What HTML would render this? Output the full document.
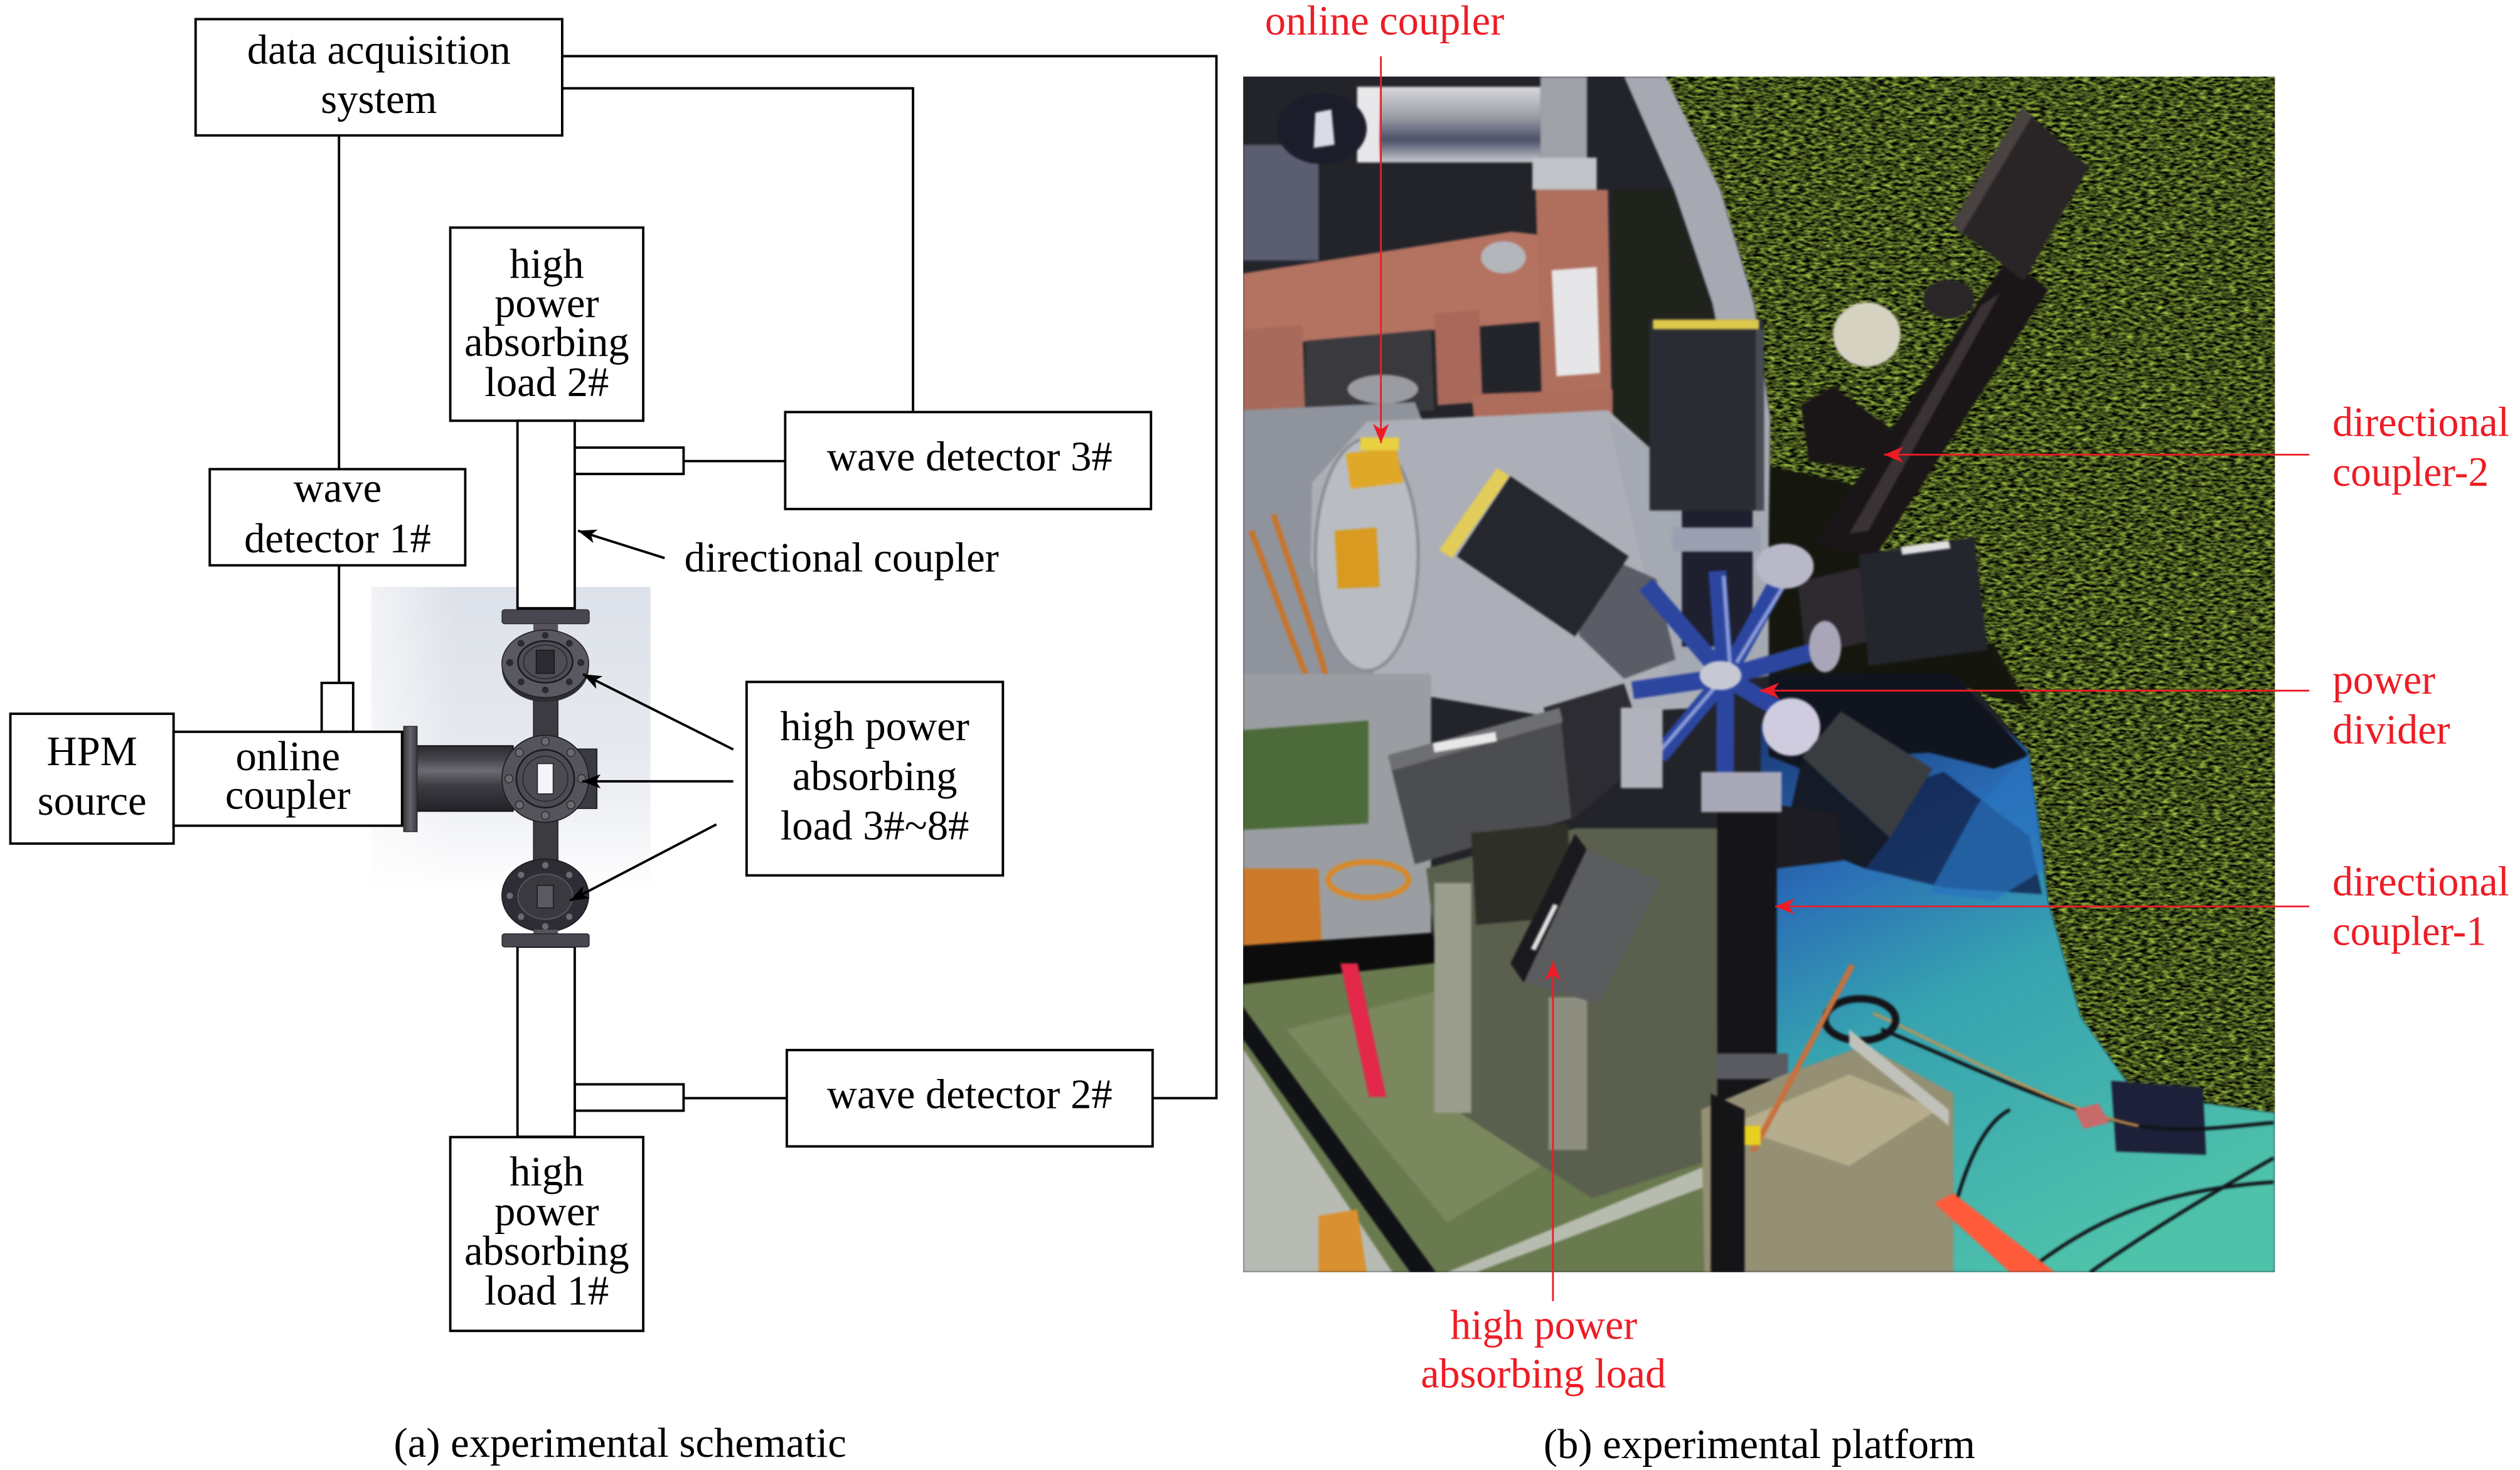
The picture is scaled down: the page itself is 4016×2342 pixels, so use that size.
<!DOCTYPE html>
<html><head><meta charset="utf-8"><style>
html,body{margin:0;padding:0;background:#fff;}
svg{display:block;}
text{font-family:"Liberation Serif","Times New Roman",serif;}
</style></head><body>
<svg xmlns="http://www.w3.org/2000/svg" width="4016" height="2342" viewBox="0 0 1567.2 914">
<defs>
 <marker id="ab" viewBox="-12 -6 13 12" markerWidth="13" markerHeight="12" refX="0" refY="0" orient="auto" markerUnits="userSpaceOnUse"><path d="M0,0 L-11.5,-4.4 L-8.5,0 L-11.5,4.4 Z" fill="#000"/></marker>
 <marker id="ar" viewBox="-13 -6 14 12" markerWidth="14" markerHeight="12" refX="0" refY="0" orient="auto" markerUnits="userSpaceOnUse"><path d="M0,0 L-12,-5 L-8.5,0 L-12,5 Z" fill="#ee1c25"/></marker>
 <linearGradient id="bg3d" x1="0" y1="0" x2="0" y2="1">
  <stop offset="0" stop-color="#dde1e9"/><stop offset="0.55" stop-color="#e6e9ef"/><stop offset="0.85" stop-color="#f6f7f9"/><stop offset="1" stop-color="#ffffff"/>
 </linearGradient>
 <linearGradient id="bg3dL" x1="0" y1="0" x2="1" y2="0">
  <stop offset="0" stop-color="#ffffff" stop-opacity="0.6"/><stop offset="0.3" stop-color="#ffffff" stop-opacity="0"/>
 </linearGradient>
 <linearGradient id="cyl" x1="0" y1="0" x2="0" y2="1">
  <stop offset="0" stop-color="#2c2b32"/><stop offset="0.2" stop-color="#45444b"/><stop offset="0.38" stop-color="#6c6b73"/><stop offset="0.6" stop-color="#3e3d44"/><stop offset="1" stop-color="#222127"/>
 </linearGradient>
 <linearGradient id="fl" x1="0" y1="0" x2="1" y2="0">
  <stop offset="0" stop-color="#3a3940"/><stop offset="0.5" stop-color="#65646c"/><stop offset="1" stop-color="#3a3940"/>
 </linearGradient>
 <linearGradient id="teal" x1="1150" y1="430" x2="1320" y2="780" gradientUnits="userSpaceOnUse">
  <stop offset="0" stop-color="#1b3b78"/><stop offset="0.25" stop-color="#2a6db6"/><stop offset="0.5" stop-color="#36a2b0"/><stop offset="1" stop-color="#4fc2aa"/>
 </linearGradient>
 <linearGradient id="silver" x1="0" y1="0" x2="0" y2="1">
  <stop offset="0" stop-color="#d8d9dd"/><stop offset="0.4" stop-color="#9a9ca4"/><stop offset="0.7" stop-color="#4a5068"/><stop offset="1" stop-color="#c8c8cc"/>
 </linearGradient>
 <clipPath id="photoClip"><rect x="773.1" y="47.6" width="641.7" height="743.4"/></clipPath>
 <clipPath id="grassClip"><polygon points="1034,47.6 1414.8,47.6 1414.8,692 1328,680 1294,632 1274,561 1261,466 1230,430 1100,420 1100,330 1101,260 1091,189 1070,118"/></clipPath>
 <filter id="grass" x="1000" y="40" width="420" height="670" filterUnits="userSpaceOnUse" color-interpolation-filters="sRGB">
  <feTurbulence type="fractalNoise" baseFrequency="0.22 0.55" numOctaves="2" seed="7" result="n"/>
  <feColorMatrix in="n" type="matrix" values="1.1 0 0 0 -0.29  1.3 0 0 0 -0.33  0.45 0 0 0 -0.115  0 0 0 0 1"/>
 </filter>
 <filter id="soft" x="760" y="40" width="670" height="760" filterUnits="userSpaceOnUse" color-interpolation-filters="sRGB">
  <feGaussianBlur stdDeviation="0.7"/>
 </filter>
</defs>

<!-- ============ SCHEMATIC ============ -->
<rect x="230.9" y="364.9" width="173.6" height="190" fill="url(#bg3d)"/>
<rect x="230.9" y="364.9" width="173.6" height="190" fill="url(#bg3dL)"/>

<g fill="#fff" stroke="#000" stroke-width="1.5">
 <rect x="121.6" y="11.9" width="228" height="72.3"/>
 <rect x="130.4" y="291.7" width="158.9" height="59.8"/>
 <rect x="200" y="424.6" width="19.6" height="30.4"/>
 <rect x="6.4" y="443.8" width="101.5" height="80.7"/>
 <rect x="107.9" y="455" width="142.1" height="58.4"/>
 <rect x="280" y="141.5" width="120" height="120.1"/>
 <rect x="321.8" y="261.6" width="35.6" height="116.6"/>
 <rect x="357.4" y="278.3" width="67.7" height="16.4"/>
 <rect x="488.3" y="256.2" width="227.5" height="60.3"/>
 <rect x="489.3" y="652.9" width="227.5" height="59.9"/>
 <rect x="357.4" y="674.2" width="67.7" height="16.4"/>
 <rect x="321.8" y="588.6" width="35.6" height="118.2"/>
 <rect x="280" y="707" width="120" height="120.5"/>
 <rect x="464.3" y="424" width="159.4" height="120.3"/>
</g>
<g fill="none" stroke="#000" stroke-width="1.5">
 <polyline points="349.6,34.9 756.5,34.9 756.5,682.8 716.8,682.8"/>
 <polyline points="349.6,54.9 567.8,54.9 567.8,256.2"/>
 <line x1="210.8" y1="84.2" x2="210.8" y2="291.7"/>
 <line x1="210.8" y1="351.5" x2="210.8" y2="424.6"/>
 <line x1="425.1" y1="286.7" x2="488.3" y2="286.7"/>
 <line x1="425.1" y1="682.8" x2="489.3" y2="682.8"/>
</g>

<!-- 3D waveguide rendering -->
<g>
 <rect x="312.2" y="379.1" width="54.2" height="8.7" rx="1.5" fill="#48474f" stroke="#1e1e22" stroke-width="0.5"/>
 <rect x="331.7" y="387.8" width="15.3" height="5" fill="#55545c"/>
 <rect x="331.7" y="430" width="15.3" height="30" fill="#3c3b42" stroke="#1e1e22" stroke-width="0.5"/>
 <rect x="331.7" y="508" width="15.3" height="28" fill="#3c3b42" stroke="#1e1e22" stroke-width="0.5"/>
 <ellipse cx="339.1" cy="415.5" rx="27" ry="21" fill="#2e2d33"/>
 <ellipse cx="339.1" cy="412.7" rx="27" ry="21" fill="#5a5961" stroke="#1e1e22" stroke-width="0.6"/>
 <ellipse cx="339.1" cy="411.5" rx="17" ry="13" fill="#4e4d55" stroke="#1a1a1e" stroke-width="1"/>
 <ellipse cx="339.1" cy="411.5" rx="13.5" ry="10.5" fill="none" stroke="#2a2a2e" stroke-width="0.7"/>
 <rect x="333.4" y="404.3" width="11.3" height="14.4" fill="#2a2a30" stroke="#111" stroke-width="0.5"/>
 <g fill="#2a2a30">
  <circle cx="317" cy="412" r="2.2"/><circle cx="361.2" cy="412" r="2.2"/>
  <circle cx="324" cy="400" r="2.1"/><circle cx="354" cy="400" r="2.1"/>
  <circle cx="324" cy="424" r="2.1"/><circle cx="354" cy="424" r="2.1"/>
  <circle cx="339.1" cy="395" r="2.1"/><circle cx="339.1" cy="429" r="2.1"/>
 </g>
 <rect x="346.7" y="465.7" width="24.5" height="37" fill="#3a3a42" stroke="#1a1a1e" stroke-width="0.6"/>
 <rect x="257.1" y="463.7" width="62" height="40.7" fill="url(#cyl)" stroke="#111" stroke-width="0.7"/>
 <rect x="251" y="451.6" width="8.4" height="65.5" fill="url(#fl)" stroke="#222" stroke-width="0.5"/>
 <circle cx="339.1" cy="484.2" r="27" fill="#55545c" stroke="#1e1e22" stroke-width="0.7"/>
 <circle cx="339.1" cy="484.2" r="18" fill="#4c4b53" stroke="#1a1a1e" stroke-width="1"/>
 <circle cx="339.1" cy="484.2" r="14" fill="none" stroke="#2a2a2e" stroke-width="0.7"/>
 <g fill="#6a6970" stroke="#222" stroke-width="0.5">
  <circle cx="316.5" cy="484.2" r="2.5"/><circle cx="361.7" cy="484.2" r="2.5"/>
  <circle cx="323" cy="468" r="2.5"/><circle cx="355" cy="468" r="2.5"/>
  <circle cx="323" cy="500.5" r="2.5"/><circle cx="355" cy="500.5" r="2.5"/>
  <circle cx="339.1" cy="461" r="2.5"/><circle cx="339.1" cy="507" r="2.5"/>
 </g>
 <rect x="334.2" y="474.8" width="9.8" height="18.8" fill="#f4f5f8" stroke="#222" stroke-width="0.6"/>
 <ellipse cx="339.1" cy="556.8" rx="27" ry="22.7" fill="#2e2d33" stroke="#1a1a1e" stroke-width="0.6"/>
 <ellipse cx="339.1" cy="557.5" rx="17" ry="14" fill="#3a3940" stroke="#55545c" stroke-width="0.8"/>
 <rect x="334.1" y="550.5" width="10" height="14" fill="#5a5a62" stroke="#111" stroke-width="0.5"/>
 <g fill="#6a6a72">
  <circle cx="317" cy="557" r="2"/><circle cx="361.2" cy="557" r="2"/>
  <circle cx="324" cy="544" r="2"/><circle cx="354" cy="544" r="2"/>
  <circle cx="324" cy="570" r="2"/><circle cx="354" cy="570" r="2"/>
  <circle cx="339.1" cy="538" r="2"/><circle cx="339.1" cy="576" r="2"/>
 </g>
 <rect x="331.7" y="578" width="15.3" height="3" fill="#55545c"/>
 <rect x="312.2" y="580.6" width="54.2" height="8.2" rx="1.5" fill="#48474f" stroke="#1e1e22" stroke-width="0.5"/>
</g>

<g stroke="#000" stroke-width="1.5" fill="none" marker-end="url(#ab)">
 <line x1="413.3" y1="347" x2="359.4" y2="330"/>
 <line x1="456" y1="466" x2="362.5" y2="419.2"/>
 <line x1="456" y1="485.8" x2="362" y2="485.8"/>
 <line x1="445.5" y1="512.6" x2="354.5" y2="560"/>
</g>

<g font-size="26" fill="#000" text-anchor="middle">
 <text x="235.6" y="39.7">data acquisition</text>
 <text x="235.6" y="70.2">system</text>
 <text x="340" y="172.6">high</text>
 <text x="340" y="197">power</text>
 <text x="340" y="221.3">absorbing</text>
 <text x="340" y="246.3">load 2#</text>
 <text x="209.9" y="312">wave</text>
 <text x="209.9" y="343.4">detector 1#</text>
 <text x="603" y="292.6">wave detector 3#</text>
 <text x="57.2" y="475.7">HPM</text>
 <text x="57.2" y="506.6">source</text>
 <text x="179" y="478.8">online</text>
 <text x="179" y="502.9">coupler</text>
 <text x="544" y="460.2">high power</text>
 <text x="544" y="491.1">absorbing</text>
 <text x="544" y="522">load 3#~8#</text>
 <text x="603" y="689">wave detector 2#</text>
 <text x="340" y="737">high</text>
 <text x="340" y="761.7">power</text>
 <text x="340" y="786.4">absorbing</text>
 <text x="340" y="811.2">load 1#</text>
 <text x="385.6" y="905.8">(a) experimental schematic</text>
 <text x="1094.2" y="906.5">(b) experimental platform</text>
</g>
<text x="425.6" y="355.3" font-size="26" fill="#000">directional coupler</text>

<!-- ============ PHOTO ============ -->
<g clip-path="url(#photoClip)">
 <rect x="773.1" y="47.6" width="641.7" height="743.4" fill="#23242a"/>
 <rect x="1000" y="40" width="420" height="670" filter="url(#grass)" clip-path="url(#grassClip)"/>
 <g filter="url(#soft)">
  <!-- shadow next to apparatus on grass -->
  <polygon points="1100,290 1150,300 1168,340 1165,425 1100,425" fill="#15170f"/>
  <polygon points="1160,405 1240,400 1262,440 1215,425 1160,425" fill="#14160e"/>
  <!-- floor -->
  <polygon points="1095,450 1209,419 1261,466 1274,561 1294,632 1328,680 1414.8,692 1414.8,791 1095,791" fill="url(#teal)"/>
  <polygon points="1100,419 1215,419 1262,470 1240,478 1200,468 1160,470 1125,480 1100,470" fill="#10141f"/>
  <polygon points="1145,500 1209,480 1262,520 1270,556 1210,552 1160,540" fill="#12204a" opacity="0.8"/>
  <polygon points="1262,468 1272,540 1240,560 1200,555 1230,500" fill="#2a74bf" opacity="0.7"/>
  <polygon points="1313,672 1370,676 1372,718 1316,716" fill="#1c2038"/>
  <g fill="none" stroke="#121418" stroke-width="2.2">
   <path d="M1208,791 C1215,740 1230,700 1250,690"/>
   <path d="M1260,791 C1300,760 1340,740 1414,735"/>
   <path d="M1300,791 C1330,770 1370,745 1414,720"/>
   <path d="M1170,640 C1220,660 1280,690 1330,700 C1360,705 1390,700 1414,698"/>
  </g>
  <path d="M1165,630 C1220,655 1280,690 1330,700" fill="none" stroke="#c89050" stroke-width="1.6"/>
  <polygon points="1290,690 1305,686 1312,698 1296,702" fill="#c86a6a"/>
  <ellipse cx="1157" cy="634" rx="22" ry="13" fill="none" stroke="#141418" stroke-width="4.5"/>

  <!-- gray ring plate -->
  <polygon points="1036,47.6 1070,118 1091,189 1101,260 1100,330 1050,330 1079,260 1065,189 1041,118 1010,47.6" fill="#a6a9b1"/>
  <polygon points="1040,118 1064,189 1078,260 1050,330 1003,300 1003,118" fill="#20221c"/>
  <path d="M1040,230 C1050,280 1030,300 1020,320" fill="none" stroke="#111" stroke-width="2"/>

  <!-- top-left parts -->
  <rect x="773.1" y="90" width="47" height="72" fill="#5a5e70"/>
  <rect x="846" y="54" width="112" height="47" fill="url(#silver)"/>
  <rect x="844" y="54" width="14" height="47" fill="#e8e8ea"/>
  <ellipse cx="822" cy="80" rx="28" ry="22" fill="#1c1d2a"/>
  <polygon points="818,70 828,68 830,90 817,92" fill="#d8dce8"/>
  <rect x="958" y="47.6" width="29" height="60" fill="#9ea2a8"/>
  <rect x="953" y="98" width="40" height="20" fill="#c0c4c8"/>

  <!-- copper waveguide -->
  <polygon points="773,170 940,144 958,146 958,200 870,207 773,216" fill="#b47260"/>
  <polygon points="955,118 1000,118 1003,292 960,292" fill="#b06e5c"/>
  <polygon points="892,195 920,193 922,250 894,252" fill="#a8685a"/>
  <polygon points="915,245 1003,242 1003,292 920,290" fill="#ae6c5a"/>
  <polygon points="773,205 810,202 812,262 773,265" fill="#a86a5a"/>
  <polygon points="812,212 890,205 892,255 812,262" fill="#3a3a3e"/>
  <polygon points="965,168 993,166 995,232 968,234" fill="#e6e6e8"/>
  <ellipse cx="935" cy="160" rx="14" ry="10" fill="#b4b6bc"/>
  <ellipse cx="860" cy="242" rx="22" ry="9" fill="#9a9ca2"/>

  <!-- left plate and drum -->
  <polygon points="773,255 880,250 900,300 890,430 860,470 773,470" fill="#8f939c"/>
  <polygon points="816,300 850,262 940,258 1000,255 1050,300 1070,360 1060,440 960,445 870,430 830,400 815,350" fill="#acafb7"/>
  <ellipse cx="850" cy="345" rx="32" ry="72" fill="#b9bcc3" stroke="#8a8d95" stroke-width="2"/>
  <polygon points="1000,260 1100,330 1100,420 1040,430" fill="#a5a9b2"/>
  <polygon points="837,282 868,278 873,300 840,304" fill="#e0a828"/>
  <polygon points="830,330 856,328 858,365 832,366" fill="#d89a20"/>
  <rect x="846" y="272" width="24" height="8" fill="#e8d040"/>
  <g fill="none" stroke="#c8742a" stroke-width="3.5">
   <path d="M778,330 C790,360 800,390 812,419"/>
   <path d="M792,320 C805,360 820,400 830,440"/>
  </g>

  <!-- box B -->
  <polygon points="985,340 1030,360 1042,410 1010,422 982,395" fill="#5a5c66"/>
  <polygon points="906,345.9 939.3,296 1012.9,345.9 979.6,395.8" fill="#26272e"/>
  <polygon points="895,342 931,291 939,296 903,347" fill="#e2cc5a"/>

  <!-- box A + column -->
  <rect x="1046" y="317" width="44" height="85" fill="#1e2030"/>
  <rect x="1040" y="328" width="55" height="15" fill="#9aa0b0"/>
  <rect x="1025.9" y="198.7" width="71.2" height="118.7" fill="#2a2c34"/>
  <rect x="1028" y="198.7" width="66" height="6" fill="#dcc84a"/>
  <rect x="1092" y="205" width="5" height="112" fill="#4a4c54"/>

  <!-- arm to box C -->
  <polygon points="1120,252 1140,240 1178,268 1165,292 1125,287" fill="#1a1516"/>
  <polygon points="1249,160 1274,180 1165,348 1128,338" fill="#1a1516"/>
  <polygon points="1232,190 1244,182 1162,330 1150,332" fill="#3a3234"/>
  <ellipse cx="1161" cy="208" rx="21" ry="20" fill="#d6d2c2"/>
  <ellipse cx="1212" cy="186" rx="16" ry="12" fill="#2a2628"/>
  <polygon points="1213.6,139.4 1257.5,67 1299.1,103.8 1258.7,175" fill="#292527"/>
  <polygon points="1213.6,139.4 1257.5,67 1264,72 1220,145" fill="#4a4240"/>

  <!-- box D -->
  <polygon points="1118,362 1160,352 1165,398 1123,408" fill="#2e2a30"/>
  <polygon points="1156,345 1228,334 1236,404 1162,414" fill="#24262e"/>
  <polygon points="1182,340 1212,336 1213,341 1183,345" fill="#e0e0e0"/>

  <!-- power divider -->
  <g stroke="#2c46a0" stroke-width="11" stroke-linecap="butt">
   <line x1="1073" y1="421" x2="1023.6" y2="363.5"/>
   <line x1="1073" y1="421" x2="1068" y2="355"/>
   <line x1="1073" y1="421" x2="1114" y2="347"/>
   <line x1="1073" y1="421" x2="1130" y2="404.6"/>
   <line x1="1073" y1="421" x2="1114" y2="445.6"/>
   <line x1="1073" y1="421" x2="1072.9" y2="486.7"/>
   <line x1="1073" y1="421" x2="1031.8" y2="470.2"/>
   <line x1="1073" y1="421" x2="1015.4" y2="429.2"/>
  </g>
  <g stroke="#8a9ad8" stroke-width="2.5">
   <line x1="1080" y1="412" x2="1118" y2="350"/>
   <line x1="1066" y1="428" x2="1028" y2="472"/>
   <line x1="1076" y1="415" x2="1072" y2="358"/>
  </g>
  <ellipse cx="1070" cy="420" rx="13" ry="9" fill="#c8c8d4"/>
  <ellipse cx="1110" cy="352" rx="18" ry="14" fill="#b8b8c8"/>
  <ellipse cx="1114" cy="452" rx="18" ry="18" fill="#d0cce0"/>
  <ellipse cx="1135" cy="402" rx="10" ry="16" fill="#a8a6b8"/>

  <!-- box E -->
  <polygon points="1121,471 1175,521 1160,540 1110,520" fill="#141a26"/>
  <polygon points="1121,470.9 1144.8,442.4 1201.8,478 1175.6,520.8" fill="#3a3d40"/>

  <!-- vertical waveguide (coupler-1) -->
  <polygon points="1100,500 1142,505 1146,535 1105,540" fill="#1c1c22"/>
  <polygon points="1068,505 1105,505 1105,680 1085,690 1082,791 1064,791 1066,680" fill="#151417"/>
  <rect x="1058" y="480" width="50" height="25" fill="#a8a8b8"/>
  <rect x="1062" y="655" width="50" height="16" fill="#5a5a62"/>

  <!-- left lower region -->
  <polygon points="773,419 890,419 890,585 773,590" fill="#9a9ea2"/>
  <polygon points="773,454 851,448 851,512 773,516" fill="#4d6a3a"/>
  <polygon points="773,540 820,540 822,585 773,588" fill="#cc7a2a"/>
  <ellipse cx="851" cy="547" rx="25" ry="11" fill="none" stroke="#d8882a" stroke-width="3.5"/>
  <polygon points="773,588 890,580 900,598 773,612" fill="#0c0c0c"/>

  <!-- box F -->
  <polygon points="960,440 1010,425 1025,470 978,510" fill="#2c2c32"/>
  <rect x="1008" y="440" width="26" height="50" fill="#b0b2bc"/>
  <polygon points="863.3,469.7 970.1,440.1 977.3,508.9 879.9,537.4" fill="#4c4d50"/>
  <polygon points="863,470 970,440 972,449 866,479" fill="#6e6f72"/>
  <polygon points="891,462 930,455 931,461 892,468" fill="#e8e8e8"/>

  <!-- green lid / box -->
  <polygon points="773,612 900,598 960,640 1068,640 1068,791 773,791" fill="#697a4e"/>
  <polygon points="800,640 900,615 1000,700 900,760" fill="#7f8c63" opacity="0.8"/>
  <polygon points="887,540 980,515 1068,515 1068,720 990,745 905,690" fill="#5b604e"/>
  <polygon points="915,518 975,512 978,570 918,575" fill="#2e3028"/>
  <polygon points="892,549 915,549 915,692 892,692" fill="#9a9c8e"/>
  <polygon points="963,620 987,620 987,715 963,715" fill="#8d8e80"/>
  <polygon points="900,791 918,791 1068,735 1068,722" fill="#b8bcb0"/>
  <polygon points="833.6,599 844.3,599 862.1,682 851.4,682" fill="#e3284a"/>
  <polygon points="773,626 893,791 877,791 773,646" fill="#111216"/>
  <polygon points="773,652 866,791 773,791" fill="#b8bab4"/>
  <polygon points="820,756 844,752 850,791 820,791" fill="#d89030"/>

  <!-- box G -->
  <polygon points="979.6,518.4 986.8,528 947.6,611 939.3,599" fill="#1a1a1e"/>
  <polygon points="986.8,528 1033,548 993.9,624 947.6,611" fill="#5a5c5e"/>
  <polygon points="952,590 966,562 969,563 955,591" fill="#e0e0e0"/>

  <!-- steel box bottom right -->
  <polygon points="1058,690 1110,668 1160,650 1215,680 1215,791 1060,791" fill="#958f74"/>
  <polygon points="1075,700 1150,668 1205,690 1150,725" fill="#b5ad8c"/>
  <polygon points="1150,640 1212,690 1212,700 1150,650" fill="#c0c2ba"/>
  <polygon points="1064,680 1085,690 1085,791 1064,791" fill="#151417"/>
  <line x1="1090" y1="716" x2="1152" y2="600" stroke="#c8703e" stroke-width="3.5"/>
  <rect x="1085" y="700" width="10" height="12" fill="#e8d020"/>
  <polygon points="1203,748 1215,742 1278,791 1250,791" fill="#ff5b3b"/>
 </g>
</g>

<g stroke="#ee1c25" stroke-width="1.1" fill="none" marker-end="url(#ar)">
 <line x1="858.8" y1="35" x2="858.8" y2="275.5"/>
 <line x1="1436.2" y1="282.7" x2="1171.7" y2="282.7"/>
 <line x1="1436.2" y1="429.4" x2="1094.5" y2="429.4"/>
 <line x1="1436.2" y1="563.6" x2="1104" y2="563.6"/>
 <line x1="965.8" y1="809" x2="965.8" y2="597.8"/>
</g>

<g font-size="26" fill="#ee1c25">
 <text x="786.7" y="21.5" textLength="148.8" lengthAdjust="spacingAndGlyphs">online coupler</text>
 <text x="1450.6" y="271" textLength="110" lengthAdjust="spacingAndGlyphs">directional</text>
 <text x="1450.6" y="302" textLength="97.2" lengthAdjust="spacingAndGlyphs">coupler-2</text>
 <text x="1450.6" y="431.3" textLength="64" lengthAdjust="spacingAndGlyphs">power</text>
 <text x="1450.6" y="462.2" textLength="73.2" lengthAdjust="spacingAndGlyphs">divider</text>
 <text x="1450.6" y="556.7" textLength="110" lengthAdjust="spacingAndGlyphs">directional</text>
 <text x="1450.6" y="587.6" textLength="95.7" lengthAdjust="spacingAndGlyphs">coupler-1</text>
 <text x="902" y="832.4" textLength="116.2" lengthAdjust="spacingAndGlyphs">high power</text>
 <text x="883.6" y="862.7" textLength="152.5" lengthAdjust="spacingAndGlyphs">absorbing load</text>
</g>
</svg>
</body></html>
